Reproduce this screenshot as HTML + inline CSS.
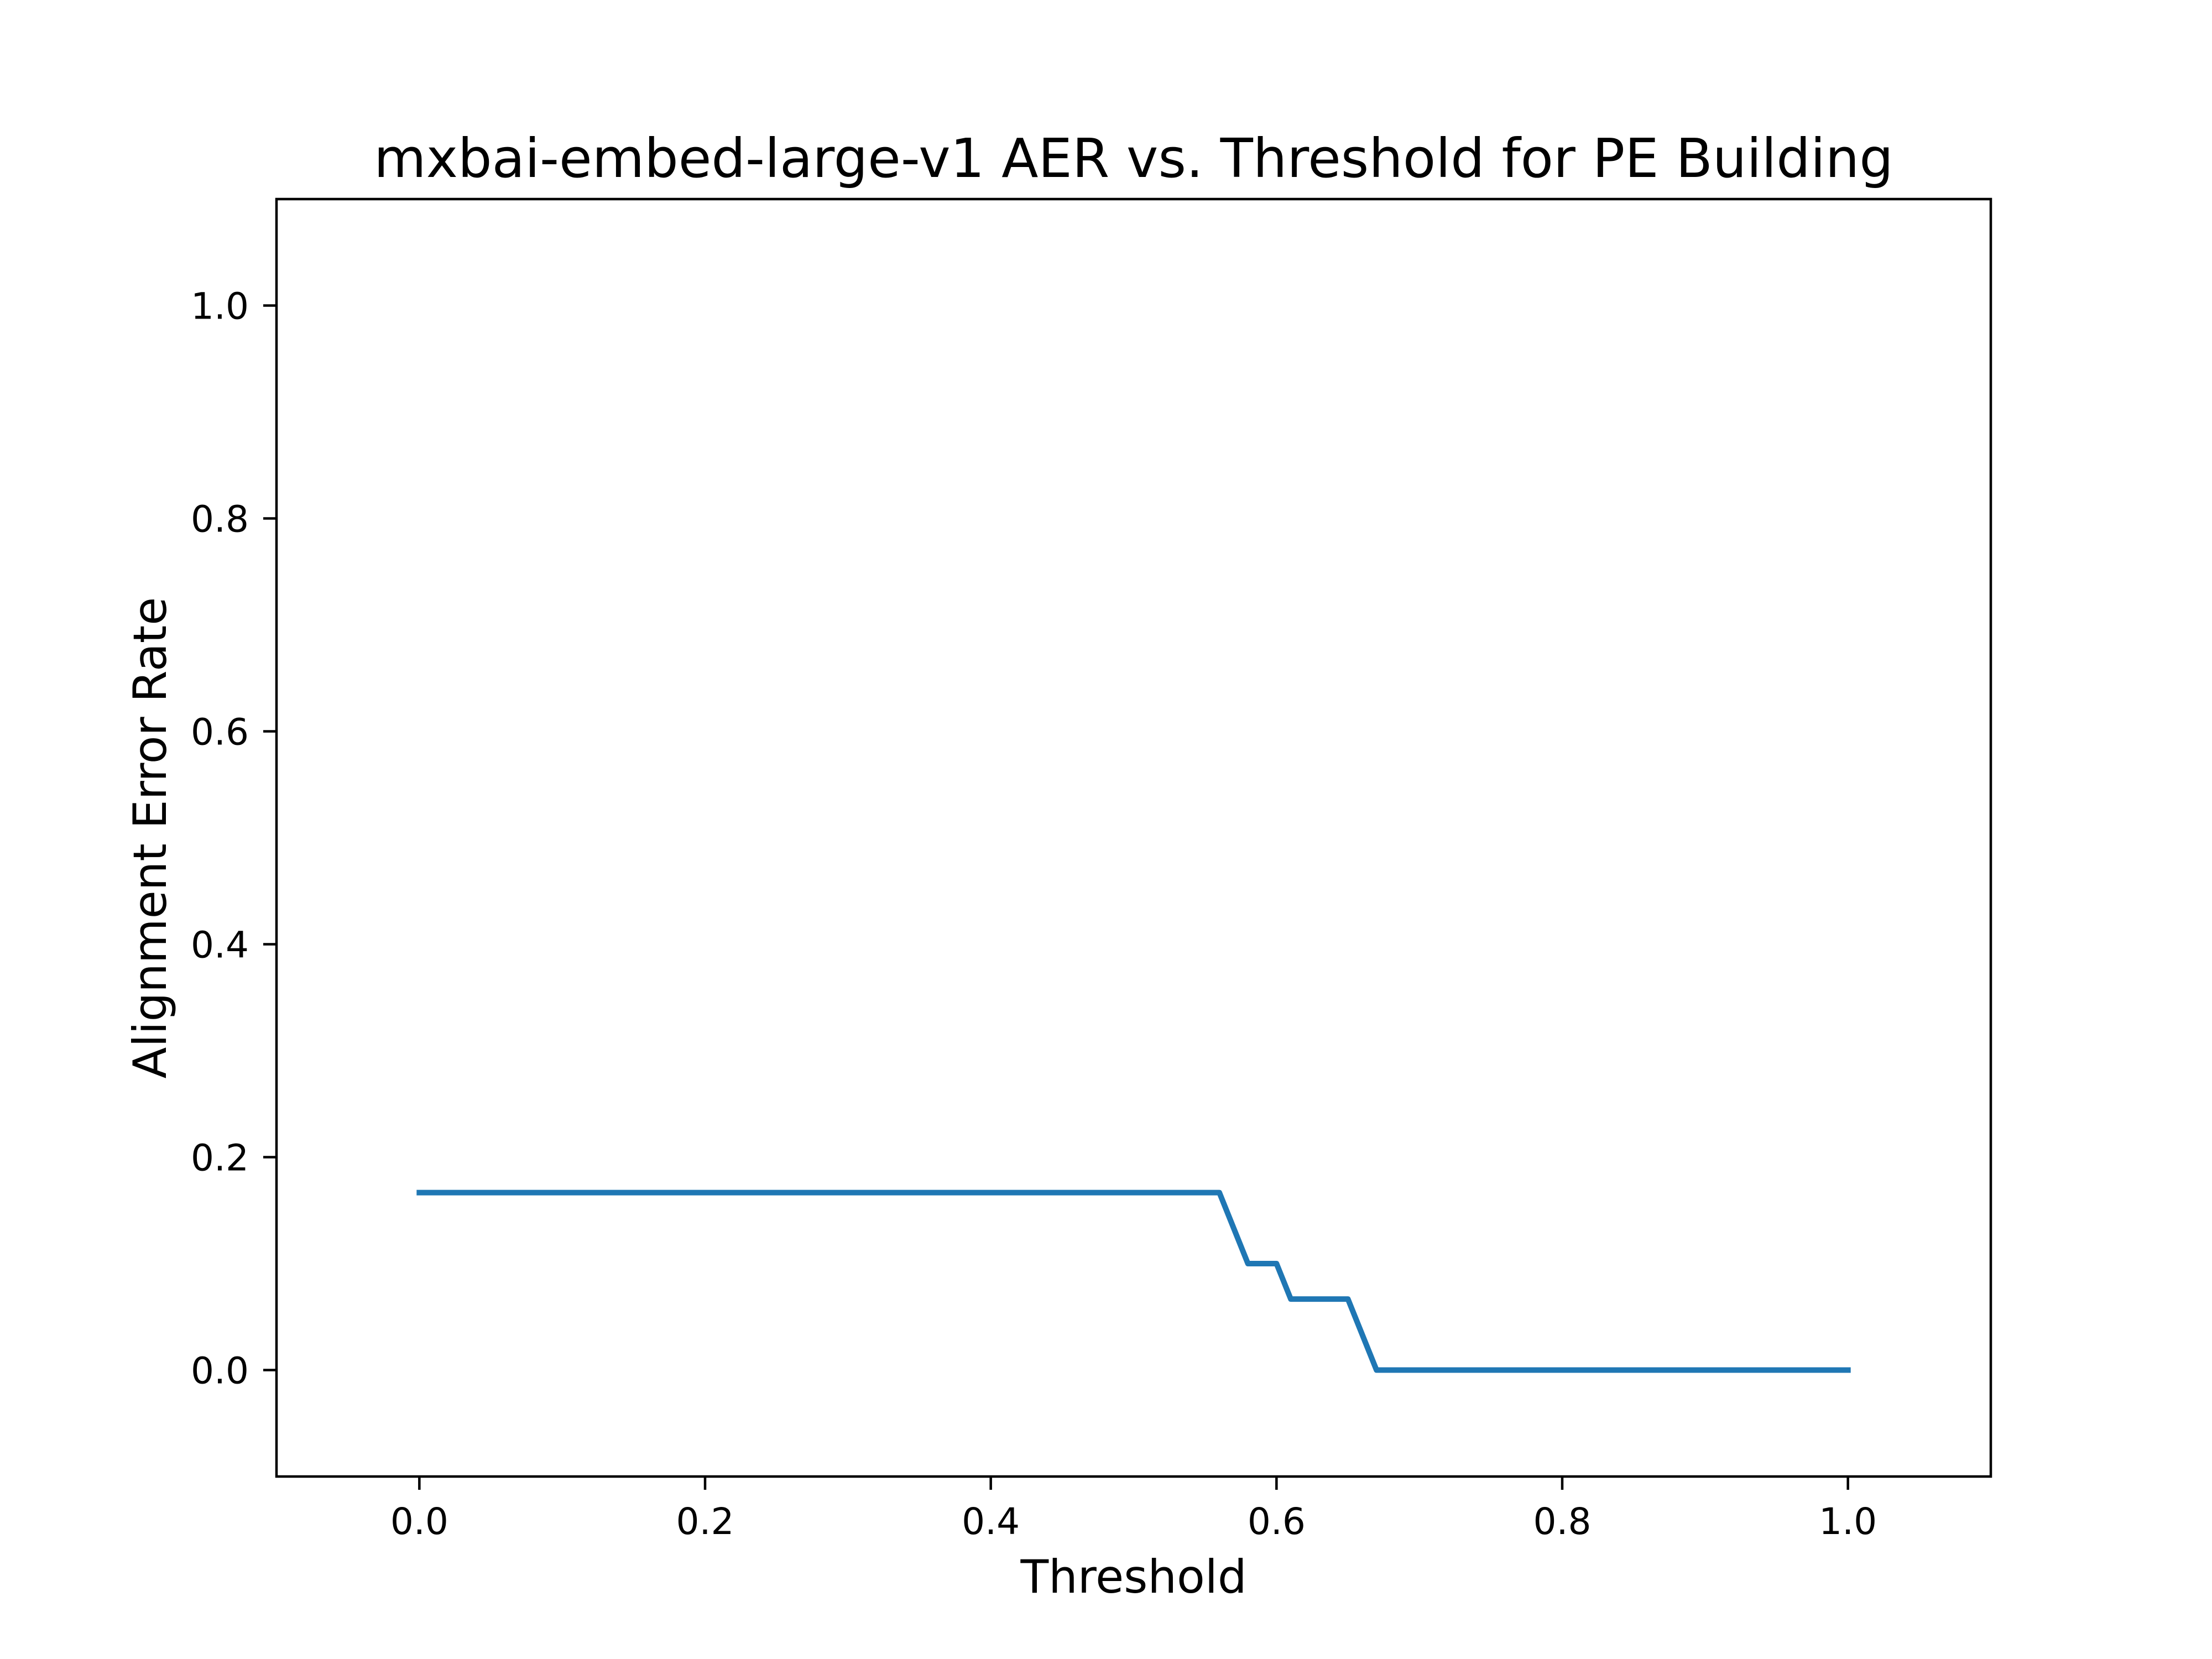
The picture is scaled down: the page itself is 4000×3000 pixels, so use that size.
<!DOCTYPE html>
<html><head><meta charset="utf-8"><style>html,body{margin:0;padding:0;background:#fff}svg{display:block}text{font-family:"DejaVu Sans","Liberation Sans",sans-serif;fill:#000}</style></head>
<body>
<svg id="chart" width="4000" height="3000" viewBox="0 0 4000 3000" xmlns="http://www.w3.org/2000/svg">
<rect width="4000" height="3000" fill="#fff"/>
<text x="2050" y="320" font-size="97" text-anchor="middle">mxbai-embed-large-v1 AER vs. Threshold for PE Building</text>
<g id="xticks"></g>
<g id="yticks"></g>
<path id="line" fill="none" stroke="#1f77b4" stroke-width="10" stroke-linejoin="round" stroke-linecap="square"/>
<rect x="500" y="360" width="3100" height="2310" fill="none" stroke="#000" stroke-width="4.5"/>
<text x="2050" y="2880" font-size="83" text-anchor="middle">Threshold</text>
<text transform="translate(300,1515) rotate(-90)" font-size="83" text-anchor="middle">Alignment Error Rate</text>
</svg>
<script>
const thresholds = [0, 0.56, 0.58, 0.60, 0.61, 0.65, 0.67, 1.0];
const aerValues = [0.1667, 0.1667, 0.1, 0.1, 0.0667, 0.0667, 0, 0];
const xTickLabels = ["0.0","0.2","0.4","0.6","0.8","1.0"];
const yTickLabels = ["0.0","0.2","0.4","0.6","0.8","1.0"];
const L=500,R=3600,T=360,B=2670;
function sx(v){return L+(v+0.1)/1.2*(R-L);}
function sy(v){return B-(v+0.1)/1.2*(B-T);}
const NS="http://www.w3.org/2000/svg";
const xg=document.getElementById('xticks'), yg=document.getElementById('yticks');
xTickLabels.forEach(t=>{const v=parseFloat(t);
 const l=document.createElementNS(NS,'line');
 
 
 l.setAttribute('x1',sx(v));l.setAttribute('x2',sx(v));l.setAttribute('y1',B);l.setAttribute('y2',B+24);l.setAttribute('stroke','#000');l.setAttribute('stroke-width','4.5');xg.appendChild(l);
 const tx=document.createElementNS(NS,'text');
 
 
 tx.setAttribute('x',sx(v));tx.setAttribute('y',B+104);tx.setAttribute('font-size','66');tx.setAttribute('text-anchor','middle');tx.textContent=t;xg.appendChild(tx);});
yTickLabels.forEach(t=>{const v=parseFloat(t);
 const l=document.createElementNS(NS,'line');
 
 
 l.setAttribute('x1',L-24);l.setAttribute('x2',L);l.setAttribute('y1',sy(v));l.setAttribute('y2',sy(v));l.setAttribute('stroke','#000');l.setAttribute('stroke-width','4.5');yg.appendChild(l);
 const tx=document.createElementNS(NS,'text');
 
 
 tx.setAttribute('x',L-50);tx.setAttribute('y',sy(v)+24);tx.setAttribute('font-size','66');tx.setAttribute('text-anchor','end');tx.textContent=t;yg.appendChild(tx);});
document.getElementById('line').setAttribute('d',thresholds.map((x,i)=>(i?'L':'M')+sx(x)+','+sy(aerValues[i])).join(' '));
</script>
</body></html>
